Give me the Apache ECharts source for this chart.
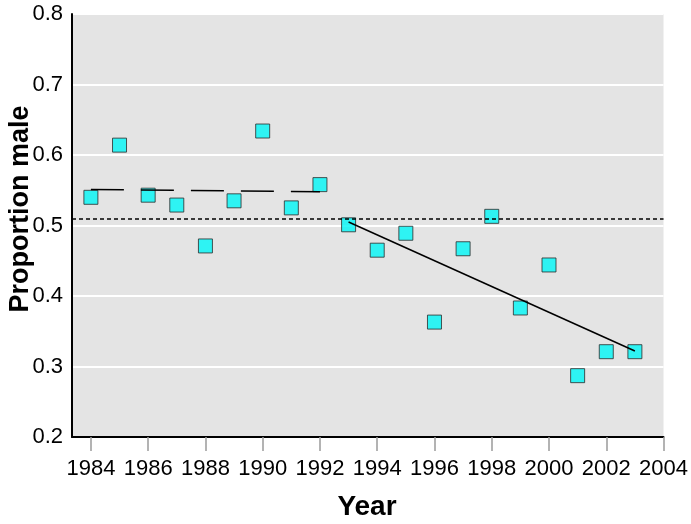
<!DOCTYPE html>
<html>
<head>
<meta charset="utf-8">
<script src="https://cdn.jsdelivr.net/npm/echarts@6/dist/echarts.min.js"></script>
<style>html,body{margin:0;padding:0;background:#fff;}#c{width:691px;height:524px;}</style>
</head>
<body>
<div id="c"></div>
<script>
const years = [1984,1985,1986,1987,1988,1989,1990,1991,1992,1993,1994,1995,1996,1997,1998,1999,2000,2001,2002,2003];
const proportionMale = [0.540,0.614,0.543,0.529,0.471,0.535,0.634,0.525,0.558,0.501,0.465,0.489,0.363,0.467,0.513,0.383,0.444,0.287,0.321,0.321];
const overallMean = 0.5135;
const earlyTrendYears = [1984, 1992];
const earlyTrendValues = [0.551, 0.548];
const lateTrendYears = [1993, 2003];
const lateTrendValues = [0.505, 0.322];
const xTickLabels = [1984,1986,1988,1990,1992,1994,1996,1998,2000,2002,2004];
const yTickLabels = [0.2,0.3,0.4,0.5,0.6,0.7,0.8];

const FONT = '"Liberation Sans",Arial,sans-serif';
const chart = echarts.init(document.getElementById('c'), null, {renderer:'canvas'});
chart.setOption({
  backgroundColor:'#ffffff',
  animation:false,
  grid:{left:72,right:24,top:14,bottom:87,show:true,backgroundColor:'#e4e4e4',borderWidth:0},
  xAxis:{
    type:'value', min:1983.34, max:2004,
    axisLine:{show:true,onZero:false,lineStyle:{color:'#000',width:2}},
    axisTick:{show:true,customValues:xTickLabels,length:14,lineStyle:{color:'#9a9a9a',width:1.5}},
    axisLabel:{customValues:xTickLabels,fontFamily:FONT,fontSize:22,color:'#000',margin:21,formatter:v=>String(v)},
    splitLine:{show:false}
  },
  yAxis:{
    type:'value', min:0.2, max:0.8, interval:0.1,
    axisLine:{show:true,onZero:false,lineStyle:{color:'#000',width:2}},
    axisTick:{show:false},
    axisLabel:{fontFamily:FONT,fontSize:22,color:'#000',margin:9,formatter:v=>v.toFixed(1),
      showMinLabel:true,showMaxLabel:true},
    splitLine:{show:true,lineStyle:{color:'#ffffff',width:2}}
  },
  graphic:[
    {type:'text',x:21,y:209,rotation:Math.PI/2,style:{text:'Proportion male',font:'bold 27px "Liberation Sans",Arial,sans-serif',fill:'#000',align:'center',verticalAlign:'middle'}},
    {type:'text',x:367,y:507,style:{text:'Year',font:'bold 28px "Liberation Sans",Arial,sans-serif',fill:'#000',align:'center',verticalAlign:'middle'}}
  ],
  series:[
    {type:'scatter',data:years.map((y,i)=>[y,proportionMale[i]]),symbol:'rect',symbolSize:14,
     itemStyle:{color:'#00f6f6',borderColor:'#2a2a2a',borderWidth:1},z:2},
    {type:'line',data:earlyTrendYears.map((y,i)=>[y,earlyTrendValues[i]]),showSymbol:false,symbol:'none',
     lineStyle:{color:'#000',width:1.5,type:[33,17]},z:3},
    {type:'line',data:lateTrendYears.map((y,i)=>[y,lateTrendValues[i]]),showSymbol:false,symbol:'none',
     lineStyle:{color:'#000',width:1.5},z:3},
    {type:'line',data:[],z:3,
     markLine:{silent:true,symbol:['none','none'],label:{show:false},
       lineStyle:{color:'#000',width:1.5,type:[4,3]},data:[{yAxis:overallMean}]}}
  ]
});
</script>
</body>
</html>
